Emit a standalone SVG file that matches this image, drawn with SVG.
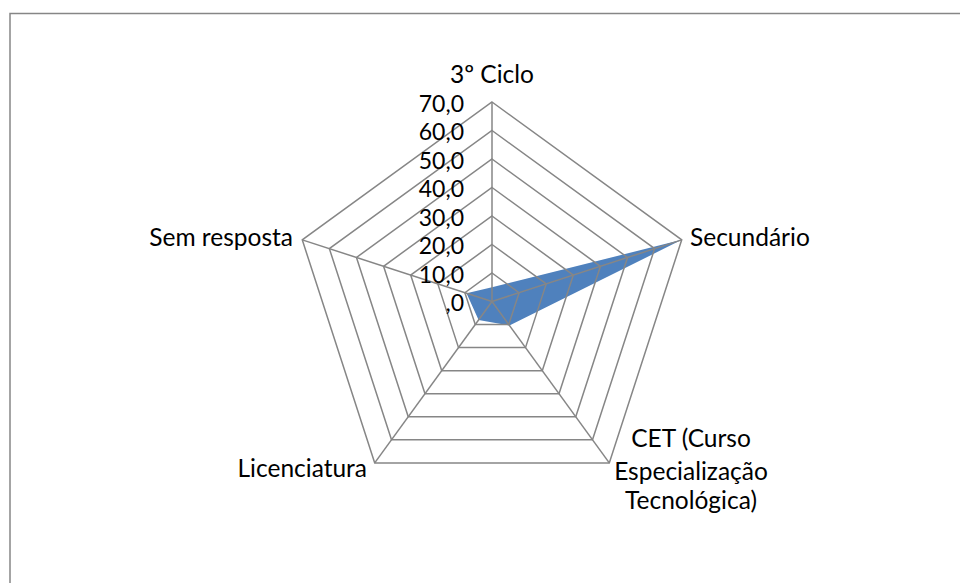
<svg xmlns="http://www.w3.org/2000/svg" width="960" height="583" viewBox="0 0 960 583">
  <style>
    .frame { fill: none; stroke: #868686; stroke-width: 1.5; }
    .grid { fill: none; stroke: #868686; stroke-width: 1.5; stroke-linejoin: miter; }
    .series { fill: #4F81BD; stroke: none; }
    text { font-family: Lato, "Open Sans", "Liberation Sans", sans-serif; font-size: 24.5px; fill: #000000; }
    .tick { text-anchor: end; font-size: 23px; }
  </style>
  <rect width="960" height="583" fill="#ffffff"/>

  <!-- chart area border (top and left edges fall inside the canvas) -->
  <polyline class="frame" points="10,600 10,13.5 980,13.5"/>

  <!-- data series: filled radar polygon -->
  <g id="series">
    <polygon class="series" points="492,287.25 681.74,239.85 509.42,325.48 478.6,319.95 466.52,293.22"/>
  </g>

  <!-- radar grid: rings every 10 units and spokes -->
  <g id="grid">
    <polygon class="grid" points="492,273 519.11,292.69 508.75,324.56 475.25,324.56 464.89,292.69"/>
    <polygon class="grid" points="492,244.5 546.21,283.89 525.5,347.61 458.5,347.61 437.79,283.89"/>
    <polygon class="grid" points="492,216 573.32,275.08 542.26,370.67 441.74,370.67 410.68,275.08"/>
    <polygon class="grid" points="492,187.5 600.42,266.27 559.01,393.73 424.99,393.73 383.58,266.27"/>
    <polygon class="grid" points="492,159 627.53,257.46 575.76,416.79 408.24,416.79 356.47,257.46"/>
    <polygon class="grid" points="492,130.5 654.63,248.66 592.51,439.84 391.49,439.84 329.37,248.66"/>
    <polygon class="grid" points="492,102 681.74,239.85 609.27,462.9 374.73,462.9 302.26,239.85"/>
    <line class="grid" x1="492" y1="301.5" x2="492" y2="102"/>
    <line class="grid" x1="492" y1="301.5" x2="681.74" y2="239.85"/>
    <line class="grid" x1="492" y1="301.5" x2="609.27" y2="462.9"/>
    <line class="grid" x1="492" y1="301.5" x2="374.73" y2="462.9"/>
    <line class="grid" x1="492" y1="301.5" x2="302.26" y2="239.85"/>
  </g>

  <!-- value axis labels -->
  <g id="value-axis">
    <text class="tick" x="464" y="111.5">70,0</text>
    <text class="tick" x="464" y="140">60,0</text>
    <text class="tick" x="464" y="168.5">50,0</text>
    <text class="tick" x="464" y="197">40,0</text>
    <text class="tick" x="464" y="225.5">30,0</text>
    <text class="tick" x="464" y="254">20,0</text>
    <text class="tick" x="464" y="282.5">10,0</text>
    <text class="tick" x="464" y="311">,0</text>
  </g>

  <!-- category labels -->
  <g id="cat-3ciclo">
    <text x="492" y="83" text-anchor="middle">3º Ciclo</text>
  </g>
  <g id="cat-secundario">
    <text x="690" y="246" text-anchor="start">Secundário</text>
  </g>
  <g id="cat-cet">
    <text x="691" y="446.5" text-anchor="middle">CET (Curso</text>
    <text x="691" y="479.5" text-anchor="middle">Especialização</text>
    <text x="691" y="508.5" text-anchor="middle">Tecnológica)</text>
  </g>
  <g id="cat-licenciatura">
    <text x="367" y="477" text-anchor="end">Licenciatura</text>
  </g>
  <g id="cat-sem-resposta">
    <text x="293" y="246" text-anchor="end">Sem resposta</text>
  </g>
</svg>
